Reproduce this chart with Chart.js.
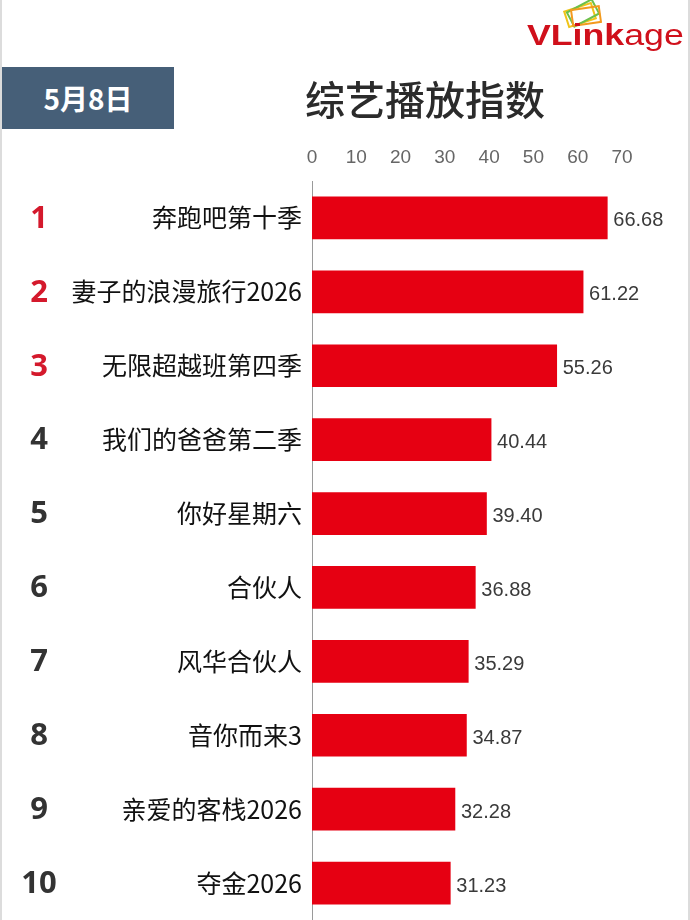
<!DOCTYPE html>
<html>
<head>
<meta charset="utf-8">
<script src="https://cdn.jsdelivr.net/npm/chart.js@4"></script>
<style>
  html, body { margin: 0; padding: 0; background: #fff; }
  #wrap { position: relative; width: 690px; height: 920px; overflow: hidden; }
  #wrap:before, #wrap:after { content: ''; position: absolute; top: 0; bottom: 0; width: 2px; background: #dcdcdc; z-index: 3; }
  #wrap:before { left: 0; }
  #wrap:after { right: 0; }
  canvas { position: absolute; left: 0; top: 0; }
  .date { position: absolute; left: 2px; top: 67px; width: 172px; height: 62px; background: #465f78;
    color: #fff; font: bold 28px "Noto Sans CJK SC", sans-serif; line-height: 62px; text-align: center; }
  .title { position: absolute; left: 280px; top: 70px; width: 290px; text-align: center;
    font: 500 40px "Noto Sans CJK SC", sans-serif; color: #2b2b2b; line-height: 56px; }
  .logo { position: absolute; left: 527px; top: 18px; font-family: "Liberation Sans", Arial, sans-serif;
    font-size: 30px; color: #d0101b; line-height: 34px; transform: scaleX(1.19); transform-origin: left top; }
  .logo b { font-weight: bold; }
  .icon { position: absolute; width: 26px; height: 14px; border: 2px solid; }
</style>
</head>
<body>
<div id="wrap">
  <canvas id="myChart" width="690" height="920"></canvas>
  <div class="date">5月8日</div>
  <div class="title">综艺播放指数</div>
  <div class="icon" style="left:565px;top:6px;border-color:#f0c419;transform:rotate(-18deg)"></div>
  <div class="icon" style="left:568px;top:4px;border-color:#6cc04a;transform:rotate(-28deg)"></div>
  <div class="icon" style="left:571px;top:7px;border-color:#f39a1e;transform:rotate(-8deg)"></div>
  <div class="logo"><b>VLink</b>age</div>
</div>
<script>
const ranks = ['1', '2', '3', '4', '5', '6', '7', '8', '9', '10'];
const shows = ['奔跑吧第十季', '妻子的浪漫旅行2026', '无限超越班第四季', '我们的爸爸第二季', '你好星期六',
  '合伙人', '风华合伙人', '音你而来3', '亲爱的客栈2026', '夺金2026'];
const values = [66.68, 61.22, 55.26, 40.44, 39.40, 36.88, 35.29, 34.87, 32.28, 31.23];
const xTicks = [0, 10, 20, 30, 40, 50, 60, 70];

// value labels after the bars + rank numbers at the far left
const barLabels = {
  id: 'barLabels',
  afterDatasetsDraw(chart) {
    const ctx = chart.ctx;
    const bars = chart.getDatasetMeta(0).data;
    ctx.save();
    ctx.textBaseline = 'middle';
    bars.forEach((bar, i) => {
      ctx.font = '20px "Liberation Sans", sans-serif';
      ctx.fillStyle = '#3a3a3a';
      ctx.textAlign = 'left';
      ctx.fillText(values[i].toFixed(2), bar.x + 6, bar.y + 3);
      ctx.font = 'bold 31px "Open Sans", sans-serif';
      ctx.fillStyle = i < 3 ? '#d4192c' : '#333';
      ctx.textAlign = 'center';
      ctx.fillText(ranks[i], 39, bar.y + 1);
    });
    ctx.restore();
  }
};

window.addEventListener('load', setup);
function setup() {
  const ctx = document.getElementById('myChart').getContext('2d');
  new Chart(ctx, {
    type: 'bar',
    data: {
      labels: shows,
      datasets: [{
        data: values,
        backgroundColor: '#e60012',
        barThickness: 42
      }]
    },
    plugins: [barLabels],
    options: {
      indexAxis: 'y',
      responsive: false,
      animation: false,
      layout: { padding: { top: 0, right: 68, bottom: 0, left: 0 } },
      plugins: { legend: { display: false }, tooltip: { enabled: false } },
      scales: {
        x: {
          position: 'top',
          min: 0, max: 70,
          afterBuildTicks: s => { s.ticks = xTicks.map(v => ({ value: v })); },
          afterFit: s => { s.height = 181; s.paddingLeft = 0; s.paddingRight = 0; },
          grid: { display: false, drawTicks: false },
          border: { display: false },
          ticks: { color: '#666', padding: 12, font: { size: 19, family: '"Liberation Sans", sans-serif' } }
        },
        y: {
          afterFit: s => { s.width = 312; s.paddingTop = 0; s.paddingBottom = 0; },
          grid: { display: false, drawTicks: false },
          border: { display: true, color: '#9a9a9a', width: 1 },
          ticks: { color: '#111', padding: 10, font: { size: 25, family: '"Noto Sans CJK SC", sans-serif' } }
        }
      }
    }
  });
}
</script>
</body>
</html>
